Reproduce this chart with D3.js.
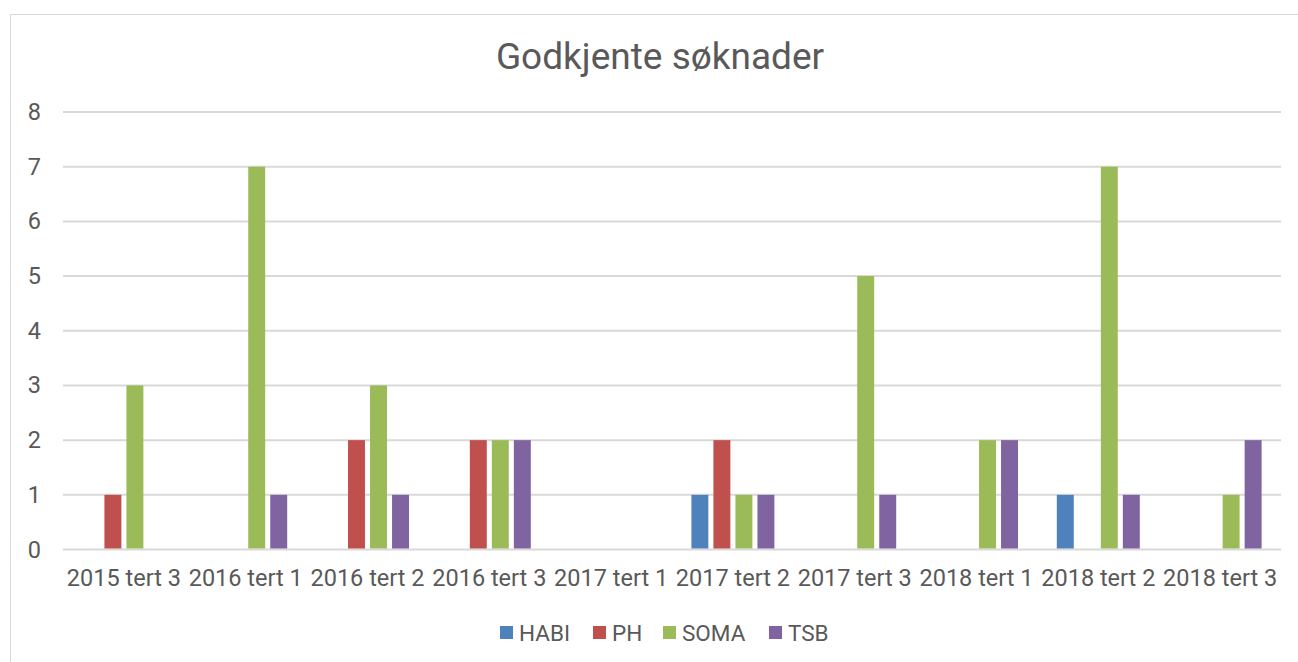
<!DOCTYPE html>
<html>
<head>
<meta charset="utf-8">
<script src="https://cdn.jsdelivr.net/npm/d3@7"></script>
<style>
  body { margin: 0; background: #fff; }
  text { font-family: Roboto, "Noto Sans", sans-serif; fill: #595959; }
</style>
</head>
<body>
<div id="chart"></div>
<script>
var categories = ["2015 tert 3", "2016 tert 1", "2016 tert 2", "2016 tert 3", "2017 tert 1",
                  "2017 tert 2", "2017 tert 3", "2018 tert 1", "2018 tert 2", "2018 tert 3"];
var seriesNames = ["HABI", "PH", "SOMA", "TSB"];
var habi = [0, 0, 0, 0, 0, 1, 0, 0, 1, 0];
var ph   = [1, 0, 2, 2, 0, 2, 0, 0, 0, 0];
var soma = [3, 7, 3, 2, 0, 1, 5, 2, 7, 1];
var tsb  = [0, 1, 1, 2, 0, 1, 1, 2, 1, 2];
var colors = ["#4f81bd", "#c0504d", "#9bbb59", "#8064a2"];
var yTicks = [0, 1, 2, 3, 4, 5, 6, 7, 8];

var width = 1298, height = 662;
var plotLeft = 63, plotRight = 1281, plotTop = 112, plotBottom = 549.5;

var svg = d3.select("#chart").append("svg")
    .attr("width", width)
    .attr("height", height);

// outer frame
svg.append("rect")
    .attr("x", 10.5).attr("y", 14.5)
    .attr("width", width + 10).attr("height", height + 10)
    .attr("fill", "none").attr("stroke", "#d9d9d9").attr("stroke-width", 1);

svg.append("text")
    .attr("x", 660).attr("y", 69)
    .attr("text-anchor", "middle")
    .attr("font-size", 37)
    .text("Godkjente søknader");

var x = d3.scaleBand().domain(categories).range([plotLeft, plotRight]);
var y = d3.scaleLinear().domain([0, 8]).range([plotBottom, plotTop]);
var xs = d3.scaleBand().domain(seriesNames)
    .range([x.bandwidth() / 2 - 41.5, x.bandwidth() / 2 + 41.5])
    .paddingInner(0.23);

// gridlines
svg.append("g").selectAll("line")
  .data(yTicks)
  .enter().append("line")
    .attr("x1", plotLeft).attr("x2", plotRight)
    .attr("y1", function(d) { return y(d); })
    .attr("y2", function(d) { return y(d); })
    .attr("stroke", "#d9d9d9").attr("stroke-width", 2);

var yAxis = svg.append("g")
    .attr("transform", "translate(" + (plotLeft - 22) + ",0)")
    .call(d3.axisLeft(y).tickValues(yTicks).tickSize(0).tickPadding(0));
yAxis.select(".domain").remove();
yAxis.selectAll("text").attr("font-size", 23.5).attr("font-family", "Roboto").attr("fill", "#595959");

var xAxis = svg.append("g")
    .attr("transform", "translate(0," + plotBottom + ")")
    .call(d3.axisBottom(x).tickSize(0).tickPadding(20));
xAxis.select(".domain").remove();
xAxis.selectAll("text").attr("font-size", 23.5).attr("font-family", "Roboto").attr("fill", "#595959");

var table = categories.map(function(c, i) {
  return {cat: c, values: [habi[i], ph[i], soma[i], tsb[i]]};
});

var groups = svg.append("g").selectAll("g")
  .data(table)
  .enter().append("g")
    .attr("transform", function(d) { return "translate(" + x(d.cat) + ",0)"; });

groups.selectAll("rect")
  .data(function(d) { return d.values.map(function(v, j) { return {name: seriesNames[j], v: v, j: j}; }); })
  .enter().filter(function(d) { return d.v > 0; }).append("rect")
    .attr("x", function(d) { return xs(d.name); })
    .attr("y", function(d) { return y(d.v); })
    .attr("width", xs.bandwidth())
    .attr("height", function(d) { return y(0) - y(d.v) - 1; })
    .attr("fill", function(d) { return colors[d.j]; });

// legend
var legendX = [500, 593, 663, 769];
var legend = svg.append("g").selectAll("g")
  .data(seriesNames)
  .enter().append("g")
    .attr("transform", function(d, i) { return "translate(" + legendX[i] + ",626)"; });
legend.append("rect")
    .attr("width", 13).attr("height", 13)
    .attr("fill", function(d, i) { return colors[i]; });
legend.append("text")
    .attr("x", 19).attr("y", 14.5)
    .attr("font-size", 22.5)
    .text(function(d) { return d; });
</script>
</body>
</html>
